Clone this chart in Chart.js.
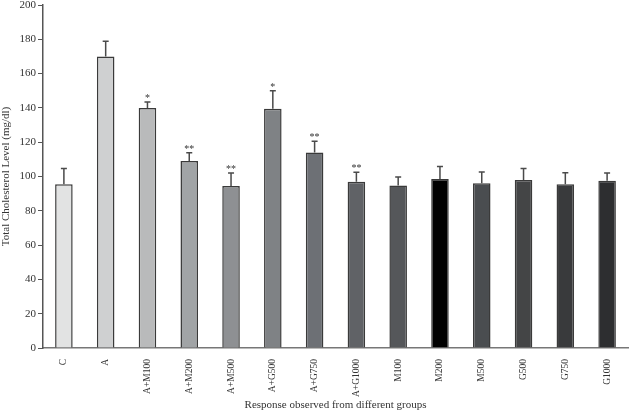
<!DOCTYPE html>
<html>
<head>
<meta charset="utf-8">
<script src="https://cdn.jsdelivr.net/npm/chart.js@4.4.1/dist/chart.umd.min.js"></script>
<style>
  html, body { margin: 0; padding: 0; background: #fff; }
  canvas { display: block; }
</style>
</head>
<body>
<canvas id="cholChart" width="629" height="413"></canvas>
<script>
var groups = ['C', 'A', 'A+M100', 'A+M200', 'A+M500', 'A+G500', 'A+G750', 'A+G1000',
              'M100', 'M200', 'M500', 'G500', 'G750', 'G1000'];
var cholesterol = [95.5, 170, 140, 109, 94.5, 139.5, 114, 97, 94.7, 98.5, 96, 98, 95.5, 97.5];
var errors = [9.2, 8.8, 3.5, 4.9, 7.6, 10.5, 6.6, 5.5, 5, 7.3, 6.6, 6.6, 6.7, 4.5];
var marks = ['', '', '*', '**', '**', '*', '**', '**', '', '', '', '', '', ''];
var barColors = ['#e2e3e3', '#cfd0d1', '#b9babb', '#a1a4a6', '#8e9093', '#7f8285', '#6d7075',
                 '#606266', '#55575a', '#000000', '#4a4d50', '#444546', '#393a3c', '#2d2e30'];
var yTicks = [0, 20, 40, 60, 80, 100, 120, 140, 160, 180, 200];

var serif = '"Liberation Serif", "DejaVu Serif", serif';

// error bars and significance stars, placed through the chart's own scales
var errorBarPlugin = {
    id: 'errorBars',
    afterDatasetsDraw: function (chart) {
        var ctx = chart.ctx;
        var yScale = chart.scales.y;
        var meta = chart.getDatasetMeta(0);
        ctx.save();
        meta.data.forEach(function (bar, i) {
            var x = bar.x;
            var yTop = yScale.getPixelForValue(cholesterol[i]);
            var yErr = yScale.getPixelForValue(cholesterol[i] + errors[i]);
            ctx.strokeStyle = '#4a4a4a';
            ctx.lineWidth = 1.5;
            ctx.beginPath();
            ctx.moveTo(x, yTop);
            ctx.lineTo(x, yErr);
            ctx.moveTo(x - 3, yErr);
            ctx.lineTo(x + 3, yErr);
            ctx.stroke();
            if (marks[i]) {
                ctx.fillStyle = '#333';
                ctx.font = '10px ' + serif;
                ctx.textAlign = 'center';
                ctx.textBaseline = 'alphabetic';
                ctx.fillText(marks[i], x, yErr - 1);
            }
        });
        ctx.restore();
    }
};

var ctx = document.getElementById('cholChart').getContext('2d');
var cholChart = new Chart(ctx, {
    type: 'bar',
    data: {
        labels: groups,
        datasets: [{
            data: cholesterol,
            backgroundColor: barColors,
            borderColor: '#3a3a3a',
            borderWidth: 1.5,
            barPercentage: 0.42,
            categoryPercentage: 1
        }]
    },
    plugins: [errorBarPlugin],
    options: {
        responsive: false,
        animation: false,
        devicePixelRatio: 1,
        layout: { padding: { top: 0, right: 1, left: 0, bottom: 0 } },
        plugins: {
            legend: { display: false },
            tooltip: { enabled: false }
        },
        scales: {
            x: {
                grid: { display: false },
                border: { color: '#777', width: 1.5 },
                ticks: {
                    color: '#333',
                    font: { family: serif, size: 9.5 },
                    maxRotation: 90,
                    minRotation: 90,
                    padding: 3
                },
                title: {
                    display: true,
                    text: 'Response observed from different groups',
                    color: '#333',
                    font: { family: serif, size: 11 },
                    padding: { top: 0, bottom: 1 }
                },
                afterFit: function (scale) { scale.height = 65; }
            },
            y: {
                min: 0,
                max: 200,
                afterBuildTicks: function (scale) {
                    scale.ticks = yTicks.map(function (v) { return { value: v }; });
                },
                grid: {
                    display: true,
                    drawOnChartArea: false,
                    drawTicks: true,
                    tickLength: 5,
                    color: '#555',
                    lineWidth: 1
                },
                border: { color: '#555', width: 1.5 },
                ticks: {
                    color: '#333',
                    font: { family: serif, size: 11 },
                    padding: 2
                },
                title: {
                    display: true,
                    text: 'Total Cholesterol Level (mg/dl)',
                    color: '#333',
                    font: { family: serif, size: 11 },
                    padding: { top: 0, bottom: 0 }
                },
                afterFit: function (scale) {
                    scale.width = 43;
                    scale.paddingTop = 5;
                    scale.paddingBottom = 0;
                }
            }
        }
    }
});
</script>
</body>
</html>
